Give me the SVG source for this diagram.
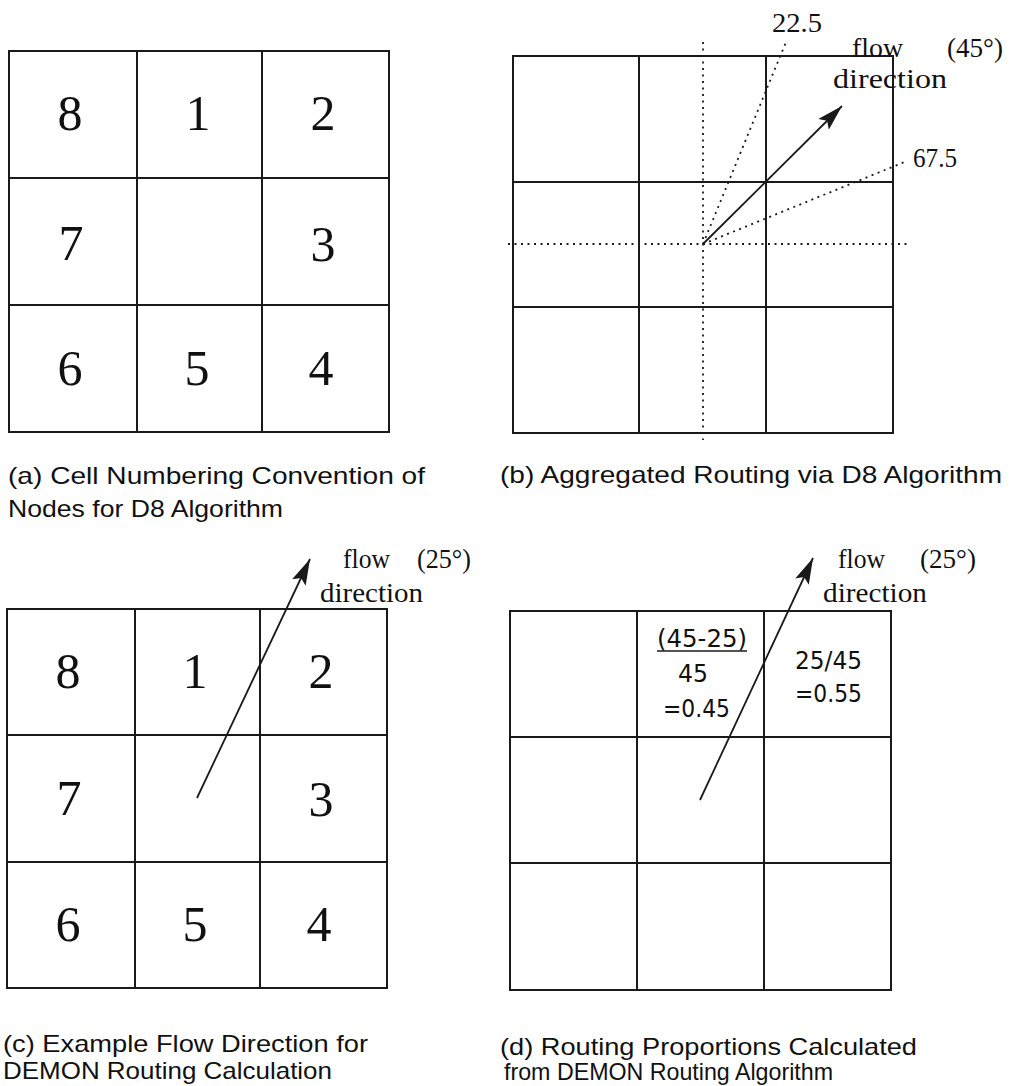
<svg xmlns="http://www.w3.org/2000/svg" width="1013" height="1086" viewBox="0 0 1013 1086">
<style>
  .cell { fill: #ffffff; stroke: #1a1a1a; stroke-width: 2; }
  .num { font-family: "Liberation Serif", "Times New Roman", serif; font-size: 50px; fill: #111; text-anchor: middle; }
  .lbl { font-family: "Liberation Serif", "Times New Roman", serif; font-size: 28px; fill: #111; }
  .prop { font-family: "DejaVu Sans", "Liberation Sans", sans-serif; font-size: 25px; fill: #111; }
  .cap { font-family: "Liberation Sans", Arial, sans-serif; font-size: 24px; fill: #111; }
  .dot { stroke: #1a1a1a; stroke-width: 1.8; stroke-dasharray: 2 4.5; fill: none; }
  .flow { stroke: #1a1a1a; stroke-width: 1.8; fill: none; marker-end: url(#head); }
</style>
<defs>
  <marker id="head" markerUnits="userSpaceOnUse" markerWidth="28" markerHeight="18" refX="26" refY="9" orient="auto">
    <path d="M0,1.5 L26,9 L0,16.5 L5,9 z" fill="#1a1a1a"/>
  </marker>
</defs>
<rect width="1013" height="1086" fill="#ffffff"/>

<!-- Panel (a) -->
<g id="panel-a">
  <g id="a-cell-8"><rect class="cell" x="9" y="51" width="128" height="127"/><text class="num" x="70" y="130">8</text></g>
  <g id="a-cell-1"><rect class="cell" x="137" y="51" width="125" height="127"/><text class="num" x="198" y="130">1</text></g>
  <g id="a-cell-2"><rect class="cell" x="262" y="51" width="127" height="127"/><text class="num" x="323" y="130">2</text></g>
  <g id="a-cell-7"><rect class="cell" x="9" y="178" width="128" height="127"/><text class="num" x="71" y="260">7</text></g>
  <g id="a-cell-c"><rect class="cell" x="137" y="178" width="125" height="127"/></g>
  <g id="a-cell-3"><rect class="cell" x="262" y="178" width="127" height="127"/><text class="num" x="323" y="261">3</text></g>
  <g id="a-cell-6"><rect class="cell" x="9" y="305" width="128" height="127"/><text class="num" x="70" y="385">6</text></g>
  <g id="a-cell-5"><rect class="cell" x="137" y="305" width="125" height="127"/><text class="num" x="197" y="385">5</text></g>
  <g id="a-cell-4"><rect class="cell" x="262" y="305" width="127" height="127"/><text class="num" x="321" y="385">4</text></g>
  <g id="a-caption">
    <text class="cap" x="8" y="484" textLength="417" lengthAdjust="spacingAndGlyphs">(a) Cell Numbering Convention of</text>
    <text class="cap" x="8" y="517" textLength="275" lengthAdjust="spacingAndGlyphs">Nodes for D8 Algorithm</text>
  </g>
</g>

<!-- Panel (b) -->
<g id="panel-b">
  <g id="b-grid">
    <rect class="cell" x="513" y="56" width="126" height="126"/>
    <rect class="cell" x="639" y="56" width="127" height="126"/>
    <rect class="cell" x="766" y="56" width="127" height="126"/>
    <rect class="cell" x="513" y="182" width="126" height="125"/>
    <rect class="cell" x="639" y="182" width="127" height="125"/>
    <rect class="cell" x="766" y="182" width="127" height="125"/>
    <rect class="cell" x="513" y="307" width="126" height="126"/>
    <rect class="cell" x="639" y="307" width="127" height="126"/>
    <rect class="cell" x="766" y="307" width="127" height="126"/>
  </g>
  <g id="b-labels">
    <text class="lbl" x="772" y="32" textLength="50" lengthAdjust="spacingAndGlyphs">22.5</text>
    <text class="lbl" x="852" y="57" textLength="51" lengthAdjust="spacingAndGlyphs">flow</text>
    <text class="lbl" x="947" y="57" textLength="56" lengthAdjust="spacingAndGlyphs">(45°)</text>
    <text class="lbl" x="833" y="88" textLength="114" lengthAdjust="spacingAndGlyphs">direction</text>
    <text class="lbl" x="913" y="167" textLength="44" lengthAdjust="spacingAndGlyphs">67.5</text>
  </g>
  <g id="b-caption">
    <text class="cap" x="500" y="483" textLength="502" lengthAdjust="spacingAndGlyphs">(b) Aggregated Routing via D8 Algorithm</text>
  </g>
</g>

<!-- Panel (c) -->
<g id="panel-c">
  <g id="c-cell-8"><rect class="cell" x="7" y="609" width="128" height="126"/><text class="num" x="68" y="688">8</text></g>
  <g id="c-cell-1"><rect class="cell" x="135" y="609" width="125" height="126"/><text class="num" x="195" y="688">1</text></g>
  <g id="c-cell-2"><rect class="cell" x="260" y="609" width="127" height="126"/><text class="num" x="321" y="688">2</text></g>
  <g id="c-cell-7"><rect class="cell" x="7" y="735" width="128" height="127"/><text class="num" x="69" y="815">7</text></g>
  <g id="c-cell-c"><rect class="cell" x="135" y="735" width="125" height="127"/></g>
  <g id="c-cell-3"><rect class="cell" x="260" y="735" width="127" height="127"/><text class="num" x="321" y="816">3</text></g>
  <g id="c-cell-6"><rect class="cell" x="7" y="862" width="128" height="126"/><text class="num" x="68" y="941">6</text></g>
  <g id="c-cell-5"><rect class="cell" x="135" y="862" width="125" height="126"/><text class="num" x="195" y="941">5</text></g>
  <g id="c-cell-4"><rect class="cell" x="260" y="862" width="127" height="126"/><text class="num" x="319" y="941">4</text></g>
  <g id="c-labels">
    <text class="lbl" x="343" y="568" textLength="47" lengthAdjust="spacingAndGlyphs">flow</text>
    <text class="lbl" x="417" y="568" textLength="54" lengthAdjust="spacingAndGlyphs">(25°)</text>
    <text class="lbl" x="320" y="602" textLength="103" lengthAdjust="spacingAndGlyphs">direction</text>
  </g>
  <g id="c-caption">
    <text class="cap" x="3" y="1052" textLength="365" lengthAdjust="spacingAndGlyphs">(c) Example Flow Direction for</text>
    <text class="cap" x="3" y="1079" textLength="329" lengthAdjust="spacingAndGlyphs">DEMON Routing Calculation</text>
  </g>
</g>

<!-- Panel (d) -->
<g id="panel-d">
  <g id="d-cell-1"><rect class="cell" x="510" y="611" width="127" height="126"/></g>
  <g id="d-cell-2"><rect class="cell" x="637" y="611" width="127" height="126"/>
    <text class="prop" x="657" y="647" textLength="90" lengthAdjust="spacingAndGlyphs">(45-25)</text>
    <line x1="657" y1="651" x2="747" y2="651" stroke="#1a1a1a" stroke-width="1.5"/>
    <text class="prop" x="678" y="682" textLength="30" lengthAdjust="spacingAndGlyphs">45</text>
    <text class="prop" x="663" y="717" textLength="67" lengthAdjust="spacingAndGlyphs">=0.45</text>
  </g>
  <g id="d-cell-3"><rect class="cell" x="764" y="611" width="127" height="126"/>
    <text class="prop" x="795" y="669" textLength="67" lengthAdjust="spacingAndGlyphs">25/45</text>
    <text class="prop" x="795" y="702" textLength="67" lengthAdjust="spacingAndGlyphs">=0.55</text>
  </g>
  <g id="d-cell-4"><rect class="cell" x="510" y="737" width="127" height="126"/></g>
  <g id="d-cell-5"><rect class="cell" x="637" y="737" width="127" height="126"/></g>
  <g id="d-cell-6"><rect class="cell" x="764" y="737" width="127" height="126"/></g>
  <g id="d-cell-7"><rect class="cell" x="510" y="863" width="127" height="127"/></g>
  <g id="d-cell-8"><rect class="cell" x="637" y="863" width="127" height="127"/></g>
  <g id="d-cell-9"><rect class="cell" x="764" y="863" width="127" height="127"/></g>
  <g id="d-labels">
    <text class="lbl" x="838" y="568" textLength="47" lengthAdjust="spacingAndGlyphs">flow</text>
    <text class="lbl" x="920" y="568" textLength="56" lengthAdjust="spacingAndGlyphs">(25°)</text>
    <text class="lbl" x="823" y="602" textLength="104" lengthAdjust="spacingAndGlyphs">direction</text>
  </g>
  <g id="d-caption">
    <text class="cap" x="500" y="1055" textLength="417" lengthAdjust="spacingAndGlyphs">(d) Routing Proportions Calculated</text>
    <text class="cap" x="504" y="1080" textLength="329" lengthAdjust="spacingAndGlyphs">from DEMON Routing Algorithm</text>
  </g>
</g>

<!-- Connectors -->
<g id="connectors">
  <line class="dot" x1="703" y1="42" x2="703" y2="440"/>
  <line class="dot" x1="508" y1="244" x2="907" y2="244"/>
  <line class="dot" x1="703" y1="244" x2="786" y2="42"/>
  <line class="dot" x1="703" y1="244" x2="907" y2="161"/>
  <line class="flow" x1="703" y1="244" x2="842" y2="106"/>
  <line class="flow" x1="197" y1="798" x2="310" y2="559"/>
  <line class="flow" x1="700" y1="800" x2="813" y2="558"/>
</g>
</svg>
